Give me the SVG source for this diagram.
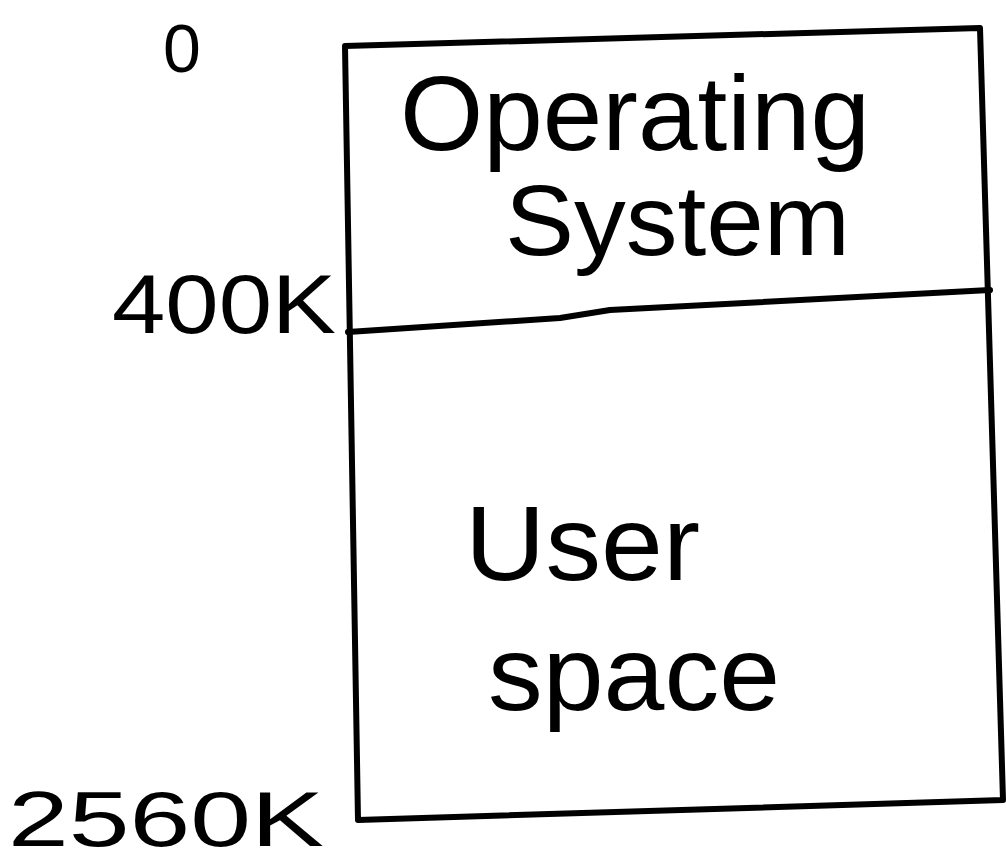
<svg xmlns="http://www.w3.org/2000/svg" width="1006" height="861" viewBox="0 0 1006 861">
  <style>
    .ink { fill: none; stroke: #000; stroke-width: 6; stroke-linecap: round; stroke-linejoin: round; }
    .label { font-family: "Liberation Sans", Arial, sans-serif; fill: #000; }
  </style>
  <rect width="1006" height="861" fill="#fff"/>

  <!-- memory block outline and the OS / user-space boundary -->
  <g id="connectors">
    <path class="ink" d="M345,46 L980,28 L1003,800 L358,820 Z"/>
    <path class="ink" d="M348,332 L560,318 L610,310 L990,290"/>
  </g>

  <!-- address markers -->
  <g id="addr-0">
    <text class="label" x="182" y="72" font-size="68" text-anchor="middle">0</text>
  </g>
  <g id="addr-400k">
    <text class="label" x="112" y="333" font-size="84" textLength="224" lengthAdjust="spacingAndGlyphs">400K</text>
  </g>
  <g id="addr-2560k">
    <text class="label" x="8" y="846" font-size="78" textLength="316" lengthAdjust="spacingAndGlyphs">2560K</text>
  </g>

  <!-- regions -->
  <g id="operating-system">
    <text class="label" x="400" y="150" font-size="105" textLength="470" lengthAdjust="spacingAndGlyphs">Operating</text>
    <text class="label" x="505" y="255" font-size="100" textLength="345" lengthAdjust="spacingAndGlyphs">System</text>
  </g>
  <g id="user-space">
    <text class="label" x="465" y="580" font-size="105" textLength="235" lengthAdjust="spacingAndGlyphs">User</text>
    <text class="label" x="488" y="710" font-size="105" textLength="292" lengthAdjust="spacingAndGlyphs">space</text>
  </g>
</svg>
